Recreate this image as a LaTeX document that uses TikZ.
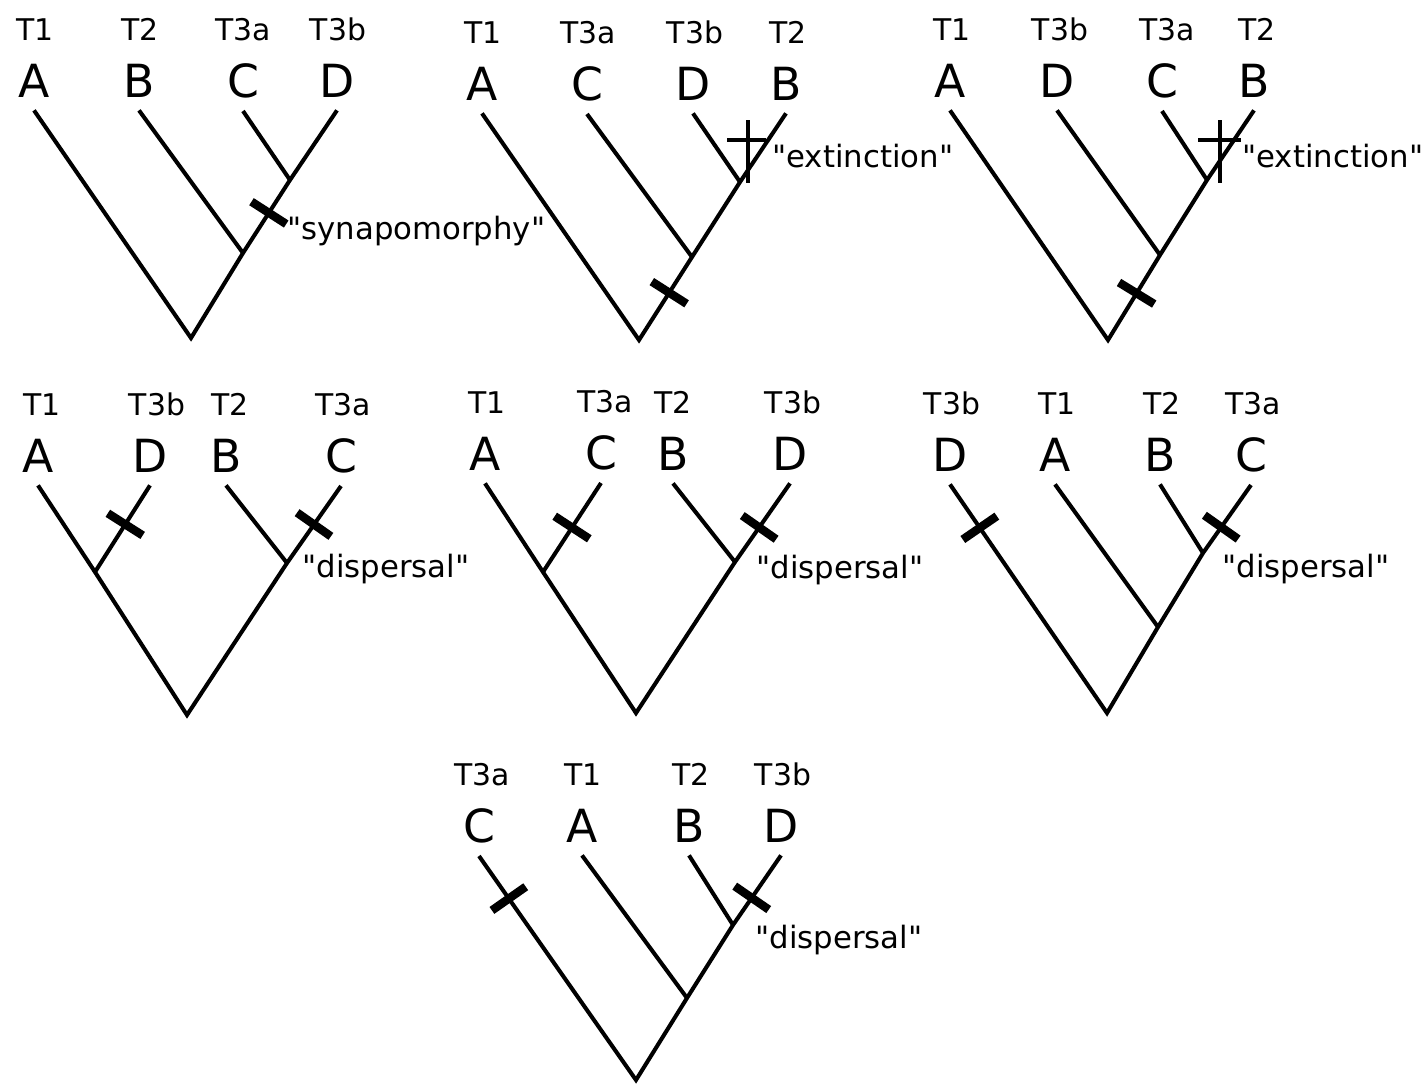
\documentclass[tikz,border=0pt]{standalone}
\usepackage{fontspec}
\setmainfont{DejaVu Sans}[Ligatures=TeXOff]

\begin{document}
\begin{tikzpicture}[x=0.02cm, y=-0.02cm]
 \tikzset{
  taxonLetter/.style={font=\fontsize{26}{26}\selectfont, anchor=base, inner xsep=0pt, inner ysep=7.4pt},
  timeLabel/.style={font=\fontsize{17}{17}\selectfont, anchor=base, inner sep=0pt},
  eventLabel/.style={font=\fontsize{17.5}{17.5}\selectfont, anchor=base west, inner sep=0pt},
  branchLine/.style={line width=2.3pt},
  charTick/.style={rectangle, fill=black, inner sep=0pt, minimum width=4.8pt, minimum height=23.5pt, sloped}
  }
  \useasboundingbox (0,0) rectangle (1427,1083);

  % tree 1 : synapomorphy
  \node[timeLabel] (p1tA) at (35,40) {T1};
  \node[timeLabel] (p1tB) at (140,40) {T2};
  \node[timeLabel] (p1tC) at (243,40) {T3a};
  \node[timeLabel] (p1tD) at (338,40) {T3b};
  \node[taxonLetter] (p1a) at (34,97) {A};
  \node[taxonLetter] (p1b) at (139,97) {B};
  \node[taxonLetter] (p1c) at (243,97) {C};
  \node[taxonLetter] (p1d) at (337,97) {D};
  \coordinate (p1n1) at (290,180);
  \coordinate (p1n2) at (243,253);
  \coordinate (p1r) at (191,338);
  \draw[branchLine] (p1a.south) -- (p1r) -- (p1n2) -- node[charTick,pos=0.55] {} (p1n1) -- (p1d.south);
  \draw[branchLine] (p1b.south) -- (p1n2);
  \draw[branchLine] (p1c.south) -- (p1n1);
  \node[eventLabel] (p1e) at (287,239) {"synapomorphy"};

  % tree 2 : extinction
  \node[timeLabel] (p2tA) at (483,43) {T1};
  \node[timeLabel] (p2tC) at (588,43) {T3a};
  \node[timeLabel] (p2tD) at (695,43) {T3b};
  \node[timeLabel] (p2tB) at (788,43) {T2};
  \node[taxonLetter] (p2a) at (482,100) {A};
  \node[taxonLetter] (p2c) at (587,100) {C};
  \node[taxonLetter] (p2d) at (693,100) {D};
  \node[taxonLetter] (p2b) at (786,100) {B};
  \coordinate (p2n1) at (740,182);
  \coordinate (p2n2) at (692,257);
  \coordinate (p2r) at (639,340);
  \draw[branchLine] (p2a.south) -- (p2r) -- node[charTick,pos=0.57] {} (p2n2) -- (p2n1) -- (p2b.south);
  \draw[branchLine] (p2c.south) -- (p2n2);
  \draw[branchLine] (p2d.south) -- (p2n1);
  \coordinate (p2x) at (748,140);
  \draw[branchLine] (p2x) ++(0,-20) -- ++(0,63);
  \draw[branchLine] (p2x) ++(-21,0) -- ++(39,0);
  \node[eventLabel] (p2e) at (772,167) {"extinction"};

  % tree 3 : extinction
  \node[timeLabel] (p3tA) at (952,40) {T1};
  \node[timeLabel] (p3tD) at (1060,40) {T3b};
  \node[timeLabel] (p3tC) at (1167,40) {T3a};
  \node[timeLabel] (p3tB) at (1257,40) {T2};
  \node[taxonLetter] (p3a) at (950,97) {A};
  \node[taxonLetter] (p3d) at (1057,97) {D};
  \node[taxonLetter] (p3c) at (1162,97) {C};
  \node[taxonLetter] (p3b) at (1254,97) {B};
  \coordinate (p3n1) at (1207,180);
  \coordinate (p3n2) at (1160,255);
  \coordinate (p3r) at (1108,340);
  \draw[branchLine] (p3a.south) -- (p3r) -- node[charTick,pos=0.55] {} (p3n2) -- (p3n1) -- (p3b.south);
  \draw[branchLine] (p3d.south) -- (p3n2);
  \draw[branchLine] (p3c.south) -- (p3n1);
  \coordinate (p3x) at (1220,140);
  \draw[branchLine] (p3x) ++(0,-20) -- ++(0,63);
  \draw[branchLine] (p3x) ++(-22,0) -- ++(43,0);
  \node[eventLabel] (p3e) at (1242,167) {"extinction"};

  % tree 4 : dispersal
  \node[timeLabel] (p4tA) at (42,415) {T1};
  \node[timeLabel] (p4tD) at (157,415) {T3b};
  \node[timeLabel] (p4tB) at (230,415) {T2};
  \node[timeLabel] (p4tC) at (343,415) {T3a};
  \node[taxonLetter] (p4a) at (38,472) {A};
  \node[taxonLetter] (p4d) at (150,472) {D};
  \node[taxonLetter] (p4b) at (226,472) {B};
  \node[taxonLetter] (p4c) at (341,472) {C};
  \coordinate (p4n1) at (95,572);
  \coordinate (p4n2) at (287,563);
  \coordinate (p4r) at (187,715);
  \draw[branchLine] (p4a.south) -- (p4n1) -- (p4r) -- (p4n2) -- node[charTick,pos=0.5] {} (p4c.south);
  \draw[branchLine] (p4n1) -- node[charTick,pos=0.55] {} (p4d.south);
  \draw[branchLine] (p4b.south) -- (p4n2);
  \node[eventLabel] (p4e) at (302,577) {"dispersal"};

  % tree 5 : dispersal
  \node[timeLabel] (p5tA) at (487,413) {T1};
  \node[timeLabel] (p5tC) at (605,412) {T3a};
  \node[timeLabel] (p5tB) at (673,413) {T2};
  \node[timeLabel] (p5tD) at (793,413) {T3b};
  \node[taxonLetter] (p5a) at (485,470) {A};
  \node[taxonLetter] (p5c) at (601,469) {C};
  \node[taxonLetter] (p5b) at (673,470) {B};
  \node[taxonLetter] (p5d) at (790,470) {D};
  \coordinate (p5n1) at (543,572);
  \coordinate (p5n2) at (735,562);
  \coordinate (p5r) at (636,713);
  \draw[branchLine] (p5a.south) -- (p5n1) -- (p5r) -- (p5n2) -- node[charTick,pos=0.44] {} (p5d.south);
  \draw[branchLine] (p5n1) -- node[charTick,pos=0.5] {} (p5c.south);
  \draw[branchLine] (p5b.south) -- (p5n2);
  \node[eventLabel] (p5e) at (756,578) {"dispersal"};

  % tree 6 : dispersal
  \node[timeLabel] (p6tD) at (952,414) {T3b};
  \node[timeLabel] (p6tA) at (1057,414) {T1};
  \node[timeLabel] (p6tB) at (1162,414) {T2};
  \node[timeLabel] (p6tC) at (1253,414) {T3a};
  \node[taxonLetter] (p6d) at (950,471) {D};
  \node[taxonLetter] (p6a) at (1055,471) {A};
  \node[taxonLetter] (p6b) at (1160,471) {B};
  \node[taxonLetter] (p6c) at (1251,471) {C};
  \coordinate (p6n1) at (1203,553);
  \coordinate (p6n2) at (1158,627);
  \coordinate (p6r) at (1107,713);
  \draw[branchLine] (p6d.south) -- node[charTick,pos=0.19] {} (p6r) -- (p6n2) -- (p6n1) -- node[charTick,pos=0.38] {} (p6c.south);
  \draw[branchLine] (p6a.south) -- (p6n2);
  \draw[branchLine] (p6b.south) -- (p6n1);
  \node[eventLabel] (p6e) at (1222,577) {"dispersal"};

  % tree 7 : dispersal
  \node[timeLabel] (p7tC) at (482,785) {T3a};
  \node[timeLabel] (p7tA) at (583,785) {T1};
  \node[timeLabel] (p7tB) at (691,785) {T2};
  \node[timeLabel] (p7tD) at (783,785) {T3b};
  \node[taxonLetter] (p7c) at (479,842) {C};
  \node[taxonLetter] (p7a) at (582,842) {A};
  \node[taxonLetter] (p7b) at (689,842) {B};
  \node[taxonLetter] (p7d) at (781,842) {D};
  \coordinate (p7n1) at (733,925);
  \coordinate (p7n2) at (687,998);
  \coordinate (p7r) at (636,1080);
  \draw[branchLine] (p7c.south) -- node[charTick,pos=0.19] {} (p7r) -- (p7n2) -- (p7n1) -- node[charTick,pos=0.39] {} (p7d.south);
  \draw[branchLine] (p7a.south) -- (p7n2);
  \draw[branchLine] (p7b.south) -- (p7n1);
  \node[eventLabel] (p7e) at (755,948) {"dispersal"};

\end{tikzpicture}
\end{document}
